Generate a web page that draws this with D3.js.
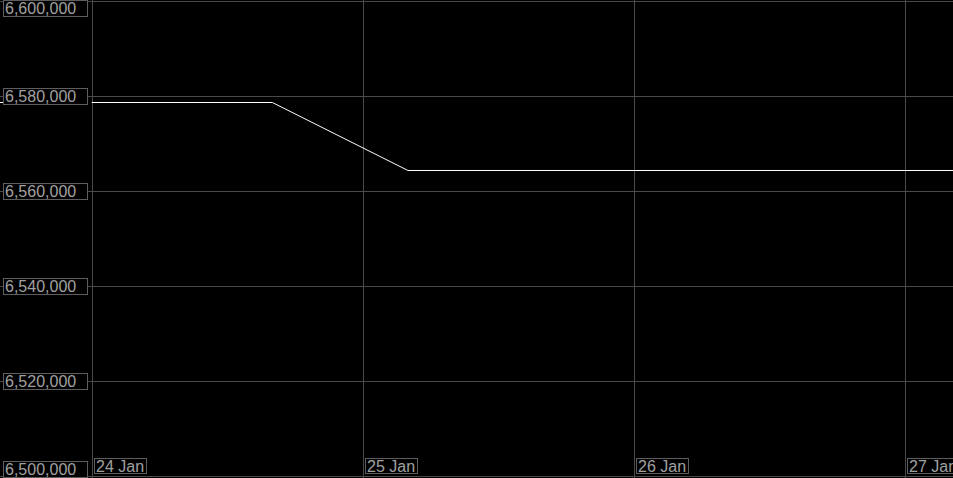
<!DOCTYPE html>
<html>
<head>
<meta charset="utf-8">
<script src="https://cdn.jsdelivr.net/npm/d3@7"></script>
<style>
  html, body { margin: 0; padding: 0; background: #000; overflow: hidden; }
  svg { display: block; }
</style>
</head>
<body>
<div class="d3"></div>
<script>
  // values
  const times = ['2024-01-24T00:00', '2024-01-24T16:00', '2024-01-25T04:00', '2024-01-27T06:00'];
  const values = [6578780, 6578780, 6564460, 6564460];
  const yTicks = [6500000, 6520000, 6540000, 6560000, 6580000, 6600000];
  const xTicks = ['2024-01-24', '2024-01-25', '2024-01-26', '2024-01-27'];

  const width = 953;
  const height = 478;
  const left = 91.5;

  const parse = d3.timeParse('%Y-%m-%dT%H:%M');
  const parseDay = d3.timeParse('%Y-%m-%d');
  const data = times.map((t, i) => ({ t: parse(t), v: values[i] }));

  const svg = d3.select('.d3')
    .append('svg')
    .attr('width', width)
    .attr('height', height)
    .style('background', '#000');

  const x = d3.scaleTime()
    .domain([parseDay('2024-01-24'), parse('2024-01-27T04:13')])
    .range([left, width]);

  const y = d3.scaleLinear()
    .domain([6500000, 6600000])
    .range([476.5, 1.5]);

  const gridColor = '#4a4a4a';
  const boxColor = '#5e5e5e';
  const textColor = '#a0a0a0';
  const font = '"Liberation Sans", Arial, sans-serif';

  // horizontal grid, runs under the label boxes
  svg.append('g')
    .selectAll('line')
    .data(yTicks)
    .enter()
    .append('line')
    .attr('x1', 0)
    .attr('x2', width)
    .attr('y1', d => y(d))
    .attr('y2', d => y(d))
    .attr('stroke', gridColor);

  // vertical grid
  svg.append('g')
    .selectAll('line')
    .data(xTicks)
    .enter()
    .append('line')
    .attr('x1', d => Math.round(x(parseDay(d))) + 0.5)
    .attr('x2', d => Math.round(x(parseDay(d))) + 0.5)
    .attr('y1', 0)
    .attr('y2', height)
    .attr('stroke', gridColor);

  // price line, clipped to the plot
  svg.append('clipPath')
    .attr('id', 'plot')
    .append('rect')
    .attr('x', left)
    .attr('y', 0)
    .attr('width', width - left)
    .attr('height', height);

  const line = d3.line()
    .x(d => x(d.t))
    .y(d => Math.round(y(d.v)) + 0.5);

  svg.append('path')
    .datum(data)
    .attr('clip-path', 'url(#plot)')
    .attr('fill', 'none')
    .attr('stroke', '#fff')
    .attr('stroke-width', 1)
    .attr('d', line);

  // small marker on the left edge
  svg.append('line')
    .attr('x1', 0)
    .attr('x2', 4)
    .attr('y1', Math.round(y(values[0])) + 0.5)
    .attr('y2', Math.round(y(values[0])) + 0.5)
    .attr('stroke', '#fff');

  // y labels in boxes
  const fmt = d3.format(',');
  const yl = svg.append('g')
    .selectAll('g')
    .data(yTicks)
    .enter()
    .append('g')
    .attr('transform', d => {
      let top = Math.floor(y(d)) - 8;
      top = Math.max(0, Math.min(top, height - 17));
      return 'translate(0,' + top + ')';
    });

  yl.append('rect')
    .attr('x', 3.5)
    .attr('y', 0.5)
    .attr('width', 84)
    .attr('height', 16)
    .attr('fill', '#000')
    .attr('stroke', boxColor);

  yl.append('text')
    .attr('x', 5)
    .attr('y', 14)
    .attr('fill', textColor)
    .style('font-family', font)
    .style('font-size', '16px')
    .text(d => fmt(d));

  // x labels in boxes
  const xl = svg.append('g')
    .selectAll('g')
    .data(xTicks)
    .enter()
    .append('g')
    .attr('transform', d => 'translate(' + (Math.round(x(parseDay(d))) + 2) + ',458)');

  xl.append('text')
    .attr('x', 2)
    .attr('y', 14)
    .attr('fill', textColor)
    .style('font-family', font)
    .style('font-size', '16px')
    .text(d => d3.timeFormat('%d %b')(parseDay(d)));

  xl.each(function() {
    const g = d3.select(this);
    const w = g.select('text').node().getComputedTextLength();
    g.insert('rect', 'text')
      .attr('x', 0.5)
      .attr('y', 0.5)
      .attr('width', Math.round(w) + 4)
      .attr('height', 15)
      .attr('fill', '#000')
      .attr('stroke', boxColor);
  });
</script>
</body>
</html>
